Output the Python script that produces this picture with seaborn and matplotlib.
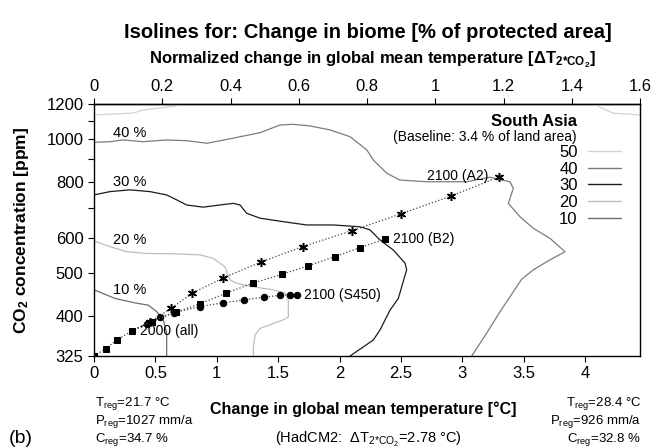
import matplotlib
matplotlib.use("Agg")
import matplotlib.pyplot as plt
from matplotlib.lines import Line2D
from matplotlib.ticker import FixedLocator, NullFormatter, FuncFormatter
import numpy as np
import pandas as pd
import seaborn as sns

sns.set_theme(style="ticks")
plt.rcParams['font.family'] = ['Liberation Sans', 'DejaVu Sans']
plt.rcParams['mathtext.fontset'] = 'custom'
plt.rcParams['mathtext.rm'] = 'Liberation Sans'
plt.rcParams['mathtext.it'] = 'Liberation Sans:italic'
plt.rcParams['mathtext.bf'] = 'Liberation Sans:bold'
plt.rcParams['mathtext.default'] = 'regular'
for key in ('text.color', 'axes.labelcolor', 'xtick.color', 'ytick.color', 'axes.edgecolor'):
    plt.rcParams[key] = 'black'

# HadCM2 warming for doubled CO2 [°C]
DT_2CO2 = 2.78

# ---- isolines of biome change [% of protected area] ----
iso50_a_temp = [0.0, 0.318, 0.399, 0.578, 0.782]
iso50_a_co2 = [1134, 1145, 1163, 1179, 1200]
iso50_b_temp = [4.09, 4.136, 4.231, 4.448]
iso50_b_co2 = [1200, 1174, 1144, 1134]

iso40_temp = [0.0, 0.130, 0.236, 0.399, 0.595, 0.758, 0.921, 1.132, 1.352, 1.515,
              1.621, 1.760, 1.923, 2.086, 2.222, 2.275, 2.385, 2.493, 2.710, 3.036,
              3.226, 3.389, 3.416, 3.375, 3.470, 3.579, 3.715, 3.837, 3.715, 3.579,
              3.484, 3.308, 3.199, 3.077]
iso40_co2 = [984, 987, 996, 987, 996, 992, 979, 1005, 1034, 1076,
             1080, 1071, 1049, 1013, 946, 898, 838, 809, 802, 802,
             821, 802, 775, 717, 669, 630, 598, 558, 535, 508,
             484, 409, 366, 325]

iso30_temp = [0.0, 0.130, 0.293, 0.456, 0.592, 0.674, 0.755, 0.890, 1.026, 1.135,
              1.189, 1.244, 1.352, 1.542, 1.733, 1.950, 2.167, 2.248, 2.330, 2.438,
              2.534, 2.547, 2.479, 2.411, 2.330, 2.275, 2.086]
iso30_co2 = [749, 762, 769, 762, 749, 730, 711, 703, 711, 717,
             711, 681, 664, 652, 641, 641, 635, 625, 593, 563,
             526, 508, 438, 412, 372, 353, 325]

iso20_temp = [0.0, 0.130, 0.266, 0.429, 0.646, 0.864, 0.972, 1.067, 1.108, 1.163,
              1.298, 1.461, 1.556, 1.583, 1.583, 1.542, 1.352, 1.312, 1.298, 1.298]
iso20_co2 = [590, 573, 558, 553, 552, 549, 539, 516, 482, 474,
             465, 458, 450, 434, 398, 392, 375, 362, 341, 325]

iso10_temp = [0.0, 0.171, 0.334, 0.442, 0.511, 0.565, 0.592, 0.592]
iso10_co2 = [458, 438, 428, 423, 409, 392, 366, 325]

iso_levels = [50, 40, 30, 20, 10]
iso_colors = {50: '#d2d2d2', 40: '#7c7c7c', 30: '#1c1c1c', 20: '#bdbdbd', 10: '#6c6c6c'}

# labels on the isolines
label_levels = [40, 30, 20, 10]
label_temp = [0.155, 0.155, 0.155, 0.155]
label_co2 = [1033, 802, 593, 458]

# ---- emission pathways ----
hist_temp = [0.0, 0.095, 0.185, 0.307]
hist_co2 = [325, 337.5, 353, 370]
a2_temp = [0.46, 0.627, 0.80, 1.051, 1.36, 1.70, 2.10, 2.50, 2.91, 3.30]
a2_co2 = [388, 416, 450, 487, 529, 573, 622, 679, 745, 822]
b2_temp = [0.47, 0.666, 0.864, 1.075, 1.293, 1.529, 1.746, 1.963, 2.167, 2.371]
b2_co2 = [388, 408, 426, 450, 474, 496, 519, 544, 570, 596]
s450_temp = [0.43, 0.538, 0.654, 0.864, 1.048, 1.225, 1.388, 1.515, 1.597, 1.651]
s450_co2 = [384, 398, 407, 420, 428, 435, 441, 445, 447, 447]

# ---- axes ticks ----
temp_ticks = [0, 0.5, 1, 1.5, 2, 2.5, 3, 3.5, 4]
norm_ticks = [0, 0.2, 0.4, 0.6, 0.8, 1.0, 1.2, 1.4, 1.6]
co2_ticks = [325, 400, 500, 600, 800, 1000, 1200]
co2_minor = [700, 900, 1100]

W, H = 653, 448
fig = plt.figure(figsize=(W / 100, H / 100), dpi=100)
ax = fig.add_axes([94 / W, 1 - 356 / H, 546 / W, 252 / H])


def fx(px):
    return px / W


def fy(py):
    return 1 - py / H


# isolines
iso_rows = []
segments = [(50, 'a', iso50_a_temp, iso50_a_co2), (50, 'b', iso50_b_temp, iso50_b_co2),
            (40, 'a', iso40_temp, iso40_co2), (30, 'a', iso30_temp, iso30_co2),
            (20, 'a', iso20_temp, iso20_co2), (10, 'a', iso10_temp, iso10_co2)]
for lev, seg, ts, cs in segments:
    for i, (t, c) in enumerate(zip(ts, cs)):
        iso_rows.append(dict(level=lev, seg=f"{lev}{seg}", order=i, temp=t, co2=c))
iso_df = pd.DataFrame(iso_rows)
sns.lineplot(data=iso_df, x='temp', y='co2', hue='level', units='seg', estimator=None,
             sort=False, palette=iso_colors, linewidth=0.9, legend=False, ax=ax)

# pathways: S450 first, then A2, B2 and the common history on top
traj_line = dict(color='#444444', linestyle=':', linewidth=0.9)


def path(ts, cs):
    return pd.DataFrame(dict(temp=[hist_temp[-1]] + ts, co2=[hist_co2[-1]] + cs))


sns.lineplot(data=path(s450_temp, s450_co2), x='temp', y='co2', sort=False, estimator=None,
             marker='o', markersize=4.6, markerfacecolor='black', markeredgecolor='black',
             markevery=slice(1, None), ax=ax, **traj_line)
sns.lineplot(data=path(a2_temp, a2_co2), x='temp', y='co2', sort=False, estimator=None,
             marker=(6, 2, 0), markersize=6.5, markerfacecolor='black', markeredgecolor='black',
             markeredgewidth=1.1, markevery=slice(1, None), ax=ax, **traj_line)
sns.lineplot(data=path(b2_temp, b2_co2), x='temp', y='co2', sort=False, estimator=None,
             marker='s', markersize=4.6, markerfacecolor='black', markeredgecolor='black',
             markevery=slice(1, None), ax=ax, **traj_line)
sns.lineplot(data=pd.DataFrame(dict(temp=hist_temp, co2=hist_co2)), x='temp', y='co2',
             sort=False, estimator=None, marker='s', markersize=4.6, markerfacecolor='black',
             markeredgecolor='black', ax=ax, **traj_line)

ann = dict(textcoords='offset pixels', fontsize=10, va='center', color='black')
ax.annotate('2000 (all)', (hist_temp[-1], hist_co2[-1]), xytext=(8, 0), ha='left', **ann)
ax.annotate('2100 (A2)', (a2_temp[-1], a2_co2[-1]), xytext=(-11, 1), ha='right', **ann)
ax.annotate('2100 (B2)', (b2_temp[-1], b2_co2[-1]), xytext=(8, 0), ha='left', **ann)
ax.annotate('2100 (S450)', (s450_temp[-1], s450_co2[-1]), xytext=(7, 0), ha='left', **ann)

for lev, t, c in zip(label_levels, label_temp, label_co2):
    ax.text(t, c, f"{lev} %", fontsize=10.5, ha='left', va='center')

# scales and ticks
ax.set_yscale('log')
ax.set_xlim(0, norm_ticks[-1] * DT_2CO2)
ax.set_ylim(co2_ticks[0], co2_ticks[-1])
ax.yaxis.set_major_locator(FixedLocator(co2_ticks))
ax.yaxis.set_minor_locator(FixedLocator(co2_minor))
ax.yaxis.set_major_formatter(FuncFormatter(lambda v, p: f"{v:g}"))
ax.yaxis.set_minor_formatter(NullFormatter())
ax.set_xticks(temp_ticks)
ax.xaxis.set_major_formatter(FuncFormatter(lambda v, p: f"{v:g}"))
ax.set_xlabel('')
ax.set_ylabel('')
ax.tick_params(axis='both', which='both', direction='out', length=4.5, width=0.8,
               labelsize=12, pad=3, colors='black', right=False, top=False)

sec = ax.secondary_xaxis('top', functions=(lambda t: t / DT_2CO2, lambda n: n * DT_2CO2))
sec.set_xticks(norm_ticks)
sec.xaxis.set_major_formatter(FuncFormatter(lambda v, p: f"{v:g}"))
sec.tick_params(direction='out', length=4.5, width=0.8, labelsize=12, pad=3, colors='black')
sec.spines['top'].set_linewidth(1.0)
sec.spines['top'].set_color('black')

for s in ax.spines.values():
    s.set_visible(True)
    s.set_color('black')
    s.set_linewidth(1.0)

# legend of isoline levels
handles = [Line2D([], [], color=iso_colors[l], linewidth=1.0) for l in iso_levels]
ax.legend(handles, [str(l) for l in iso_levels], loc='upper right', frameon=False,
          markerfirst=False, fontsize=12, handlelength=2.0, handletextpad=0.6,
          labelspacing=0.1, borderpad=0, borderaxespad=0,
          bbox_to_anchor=((621 - 94) / 546, (356 - 145) / 252))
ax.text((577 - 94) / 546, (356 - 121.5) / 252, 'South Asia', transform=ax.transAxes,
        fontsize=12, fontweight='bold', ha='right', va='center')
ax.text((577 - 94) / 546, (356 - 137) / 252, '(Baseline: 3.4 % of land area)',
        transform=ax.transAxes, fontsize=10, ha='right', va='center')

# titles and axis labels
fig.text(fx(368), fy(32), 'Isolines for: Change in biome [% of protected area]',
         fontsize=14.5, fontweight='bold', ha='center', va='center')
fig.text(fx(373), fy(60), r'Normalized change in global mean temperature [ΔT$_{\mathbf{2{*}CO_2}}$]',
         fontsize=12, fontweight='bold', ha='center', va='center')
fig.text(fx(22), fy(230), r'CO$_\mathbf{2}$ concentration [ppm]', rotation=90,
         fontsize=12.5, fontweight='bold', ha='center', va='center')
fig.text(fx(363), fy(409), 'Change in global mean temperature [°C]',
         fontsize=11.5, fontweight='bold', ha='center', va='center')
fig.text(fx(368), fy(439), r'(HadCM2:  ΔT$_{2{*}CO_2}$=2.78 °C)',
         fontsize=10.5, ha='center', va='center')
fig.text(fx(21), fy(438), '(b)', fontsize=14, ha='center', va='center')

left_info = [r'T$_{reg}$=21.7 °C', r'P$_{reg}$=1027 mm/a', r'C$_{reg}$=34.7 %']
right_info = [r'T$_{reg}$=28.4 °C', r'P$_{reg}$=926 mm/a', r'C$_{reg}$=32.8 %']
for i, (lt, rt) in enumerate(zip(left_info, right_info)):
    yy = fy(403 + 18 * i)
    fig.text(fx(95), yy, lt, fontsize=9.5, ha='left', va='center')
    fig.text(fx(641), yy, rt, fontsize=9.5, ha='right', va='center')

fig.savefig('out.png', dpi=100)
